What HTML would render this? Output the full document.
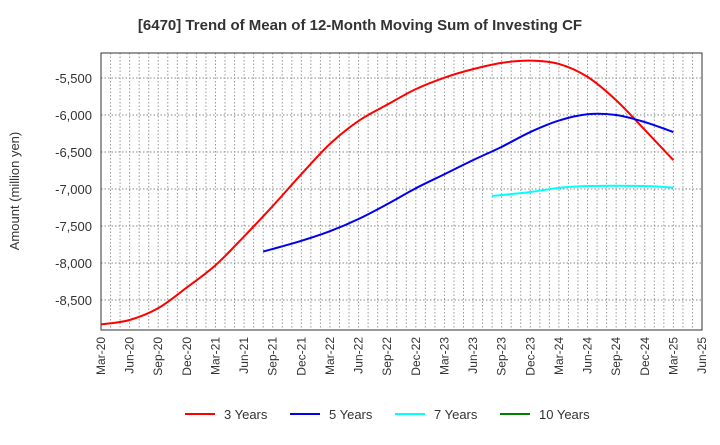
<!DOCTYPE html>
<html><head><meta charset="utf-8"><style>
body{margin:0;background:#fff;font-family:"Liberation Sans",sans-serif}
svg text{font-family:"Liberation Sans",sans-serif;fill:#333}
</style></head><body>
<svg id="c" width="720" height="440" xmlns="http://www.w3.org/2000/svg">
<text x="360" y="30" text-anchor="middle" font-size="15" font-weight="bold" style="fill:#333">[6470]  Trend of Mean of 12-Month Moving Sum of Investing CF</text>
<text transform="translate(19,191) rotate(-90)" text-anchor="middle" font-size="13">Amount (million yen)</text>
<g id="grid"></g><g id="axes"></g><g id="series"></g><g id="legend"></g>
</svg>
<script>
const xLabels=["Mar-20","Jun-20","Sep-20","Dec-20","Mar-21","Jun-21","Sep-21","Dec-21","Mar-22","Jun-22","Sep-22","Dec-22","Mar-23","Jun-23","Sep-23","Dec-23","Mar-24","Jun-24","Sep-24","Dec-24","Mar-25","Jun-25"];
const yTicks=[-5500,-6000,-6500,-7000,-7500,-8000,-8500];
const seriesNames=["3 Years","5 Years","7 Years","10 Years"];
const seriesColors=["#ff0000","#0000ee","#00ffff","#008000"];
const months3=[0,3,6,9,12,15,18,21,24,27,30,33,36,39,42,45,48,51,54,57,60];
const vals3=[-8830,-8770,-8610,-8330,-8030,-7640,-7230,-6800,-6390,-6080,-5860,-5650,-5495,-5380,-5295,-5265,-5310,-5485,-5800,-6200,-6610];
const months5=[17,18,21,24,27,30,33,36,39,42,45,48,51,54,57,60];
const vals5=[-7845,-7810,-7700,-7570,-7405,-7205,-6990,-6800,-6610,-6430,-6230,-6075,-5990,-6000,-6095,-6230];
const months7=[41,45,48,51,54,57,60];
const vals7=[-7095,-7040,-6985,-6960,-6955,-6960,-6980];
const L=101,R=702,T=53,B=330,yMax=-5162,yMin=-8905,nMonths=63;
const NS="http://www.w3.org/2000/svg";
const xs=m=>L+(R-L)*m/nMonths;
const ys=v=>T+(yMax-v)/(yMax-yMin)*(B-T);
function mk(tag,attrs,parent){const e=document.createElementNS(NS,tag);for(const k in attrs)e.setAttribute(k,attrs[k]);parent.appendChild(e);return e;}
const grid=document.getElementById('grid'),axes=document.getElementById('axes'),ser=document.getElementById('series'),leg=document.getElementById('legend');
for(let m=1;m<nMonths;m++){const l=mk('line',{x1:xs(m),x2:xs(m),y1:T,y2:B,stroke:'#999','stroke-dasharray':'1.5,2','stroke-width':1},grid);

}
yTicks.forEach(v=>{const l=mk('line',{x1:L,x2:R,y1:ys(v),y2:ys(v),stroke:'#888','stroke-dasharray':'1.5,2','stroke-width':1},grid);


const t=mk('text',{x:92,y:ys(v)+5,'text-anchor':'end','font-size':13},axes);t.textContent=v.toLocaleString('en-US');

});
const fr=mk('rect',{x:L,y:T,width:R-L,height:B-T,fill:'none',stroke:'#333','stroke-width':1},axes);


xLabels.forEach((s,i)=>{const x=xs(i*3);const t=mk('text',{transform:`translate(${x+4},337) rotate(-90)`,'text-anchor':'end','font-size':12},axes);t.textContent=s;

});
function path(ms,vs){const p=ms.map((m,i)=>[xs(m),ys(vs[i])]);let d=`M${p[0][0]},${p[0][1]}`;
for(let i=0;i<p.length-1;i++){const p0=p[Math.max(0,i-1)],p1=p[i],p2=p[i+1],p3=p[Math.min(p.length-1,i+2)];
d+=` C${p1[0]+(p2[0]-p0[0])/6},${p1[1]+(p2[1]-p0[1])/6} ${p2[0]-(p3[0]-p1[0])/6},${p2[1]-(p3[1]-p1[1])/6} ${p2[0]},${p2[1]}`;}return d;}
[[months3,vals3,0,'line-3-years'],[months5,vals5,1,'line-5-years'],[months7,vals7,2,'line-7-years']].forEach(([m,v,c,n])=>{
const e=mk('path',{d:path(m,v),fill:'none',stroke:seriesColors[c],'stroke-width':2},ser);

});
const lx=[185,290,395,500];
seriesNames.forEach((s,i)=>{const g=mk('g',{},leg);


mk('line',{x1:lx[i],x2:lx[i]+30,y1:414,y2:414,stroke:seriesColors[i],'stroke-width':2},g);
const t=mk('text',{x:lx[i]+39,y:419,'font-size':13},g);t.textContent=s;});
</script>
</body></html>
